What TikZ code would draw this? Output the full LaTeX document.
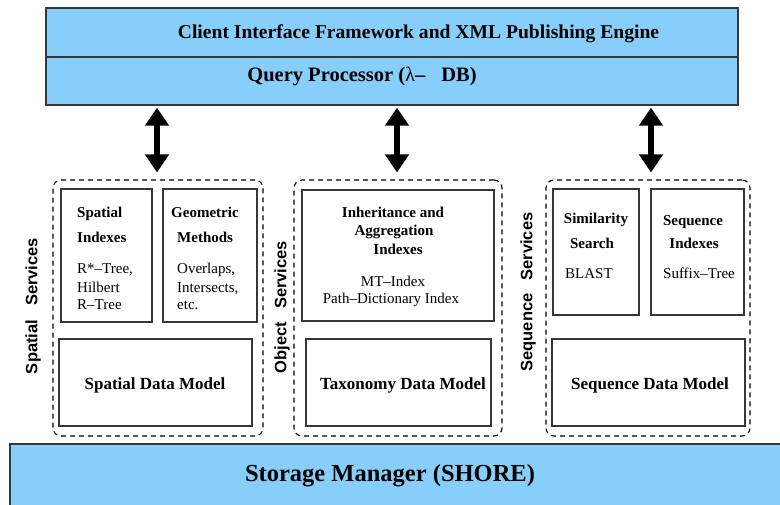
\documentclass[tikz,border=0pt]{standalone}
\usepackage{fontspec}
\setmainfont{Liberation Serif}
\newfontfamily\labelfont{Liberation Sans}
\usetikzlibrary{arrows.meta,calc}
\definecolor{layerblue}{RGB}{135,206,250}
\definecolor{edge}{RGB}{55,55,55}
\tikzset{
  layer/.style={draw=edge, line width=1.3pt, fill=layerblue, inner sep=0pt},
  module/.style={draw=edge, line width=1.1pt, inner sep=0pt},
  group/.style={draw=black, line width=1.1pt, dash pattern=on 5pt off 4pt, rounded corners=8pt, inner sep=0pt},
  head/.style={font=\bfseries\fontsize{15}{18}\selectfont, inner sep=0pt, anchor=base},
  body/.style={font=\fontsize{15}{18}\selectfont, inner sep=0pt, anchor=base},
  model/.style={font=\bfseries\fontsize{17}{20}\selectfont, inner sep=0pt, anchor=base},
  side/.style={font=\labelfont\bfseries\fontsize{16.5}{19}\selectfont, rotate=90, inner sep=0pt},
  link/.style={line width=6.5pt, {Triangle[width=23pt,length=18pt]}-{Triangle[width=23pt,length=18pt]}}
}
\begin{document}
\begin{tikzpicture}[x=1pt,y=-1pt]
\useasboundingbox (0,0) rectangle (780,504);

% upper layers
\node[layer, minimum width=692pt, minimum height=49pt] (cif) at (392,32.5) {};
\node[layer, minimum width=692pt, minimum height=48pt] (qp) at (392,81) {};
\node[font=\bfseries\fontsize{19.6}{22}\selectfont, inner sep=0pt, anchor=base] (ciftext) at (418.5,38) {Client Interface Framework and XML Publishing Engine};
\node[font=\bfseries\fontsize{20.5}{23}\selectfont, inner sep=0pt, anchor=base] (qptext) at (362,81) {Query Processor ({\mdseries λ}–\hspace{16pt}DB)};

% storage layer
\begin{scope}
\clip (0,0) rectangle (780,504);
\node[layer, minimum width=780pt, minimum height=70pt] (sm) at (400,479) {};
\end{scope}
\node[font=\bfseries\fontsize{24.5}{28}\selectfont, inner sep=0pt, anchor=base] (smtext) at (390,481) {Storage Manager (SHORE)};

% service groups
\node[group, minimum width=210pt, minimum height=256pt] (sp) at (158,308) {};
\node[group, minimum width=208pt, minimum height=256pt] (ob) at (398,308) {};
\node[group, minimum width=204pt, minimum height=256pt] (sq) at (648,308) {};

\node[side] (splabel) at (33,306) {Spatial\hspace{14pt}Services};
\node[side] (oblabel) at (282,307) {Object\hspace{13pt}Services};
\node[side] (sqlabel) at (528,292) {Sequence\hspace{13pt}Services};

% spatial modules
\node[module, minimum width=91pt, minimum height=133pt] (si) at (106.5,255.5) {};
\node[module, minimum width=94pt, minimum height=133pt] (gm) at (210,255.5) {};
\node[module, minimum width=193pt, minimum height=87pt] (sdm) at (155.5,382.5) {};
\node[head, anchor=base west] (si1) at (77,217) {Spatial};
\node[head, anchor=base west] (si2) at (77,242) {Indexes};
\node[body, anchor=base west] (si3) at (77,273) {R*–Tree,};
\node[body, anchor=base west] (si4) at (77,292) {Hilbert};
\node[body, anchor=base west] (si5) at (77,309) {R–Tree};
\node[head, anchor=base west] (gm1) at (171,217) {Geometric};
\node[head, anchor=base west] (gm2) at (177,242) {Methods};
\node[body, anchor=base west] (gm3) at (177,273) {Overlaps,};
\node[body, anchor=base west] (gm4) at (177,292) {Intersects,};
\node[body, anchor=base west] (gm5) at (177,309) {etc.};
\node[model] (sdmtext) at (155,389) {Spatial Data Model};

% object modules
\node[module, minimum width=192pt, minimum height=131pt] (ia) at (398,255.5) {};
\node[module, minimum width=185pt, minimum height=87pt] (tdm) at (398.5,382.5) {};
\node[head] (ia1) at (393,217) {Inheritance and};
\node[head] (ia2) at (394,235) {Aggregation};
\node[head] (ia3) at (398,254) {Indexes};
\node[body] (ia4) at (393,286) {MT–Index};
\node[body] (ia5) at (391,303) {Path–Dictionary Index};
\node[model] (tdmtext) at (403,389) {Taxonomy Data Model};

% sequence modules
\node[module, minimum width=86pt, minimum height=126pt] (ss) at (596,252) {};
\node[module, minimum width=93pt, minimum height=126pt] (sx) at (697.5,252) {};
\node[module, minimum width=193pt, minimum height=87pt] (qdm) at (648.5,382.5) {};
\node[head] (ss1) at (596,223) {Similarity};
\node[head] (ss2) at (592,248) {Search};
\node[body, anchor=base west] (ss3) at (565,278) {BLAST};
\node[head] (sx1) at (693,225) {Sequence};
\node[head] (sx2) at (694,248) {Indexes};
\node[body] (sx3) at (699,278) {Suffix–Tree};
\node[model] (qdmtext) at (650,389) {Sequence Data Model};

% links between the query processor and the services
\draw[link] ($(qp.south -| sp.north)+(-1,2)$) -- ($(sp.north)+(-1,-7)$);
\draw[link] ($(qp.south -| ob.north)+(-1,2)$) -- ($(ob.north)+(-1,-7)$);
\draw[link] ($(qp.south -| sq.north)+(3,2)$) -- ($(sq.north)+(3,-7)$);
\end{tikzpicture}
\end{document}
